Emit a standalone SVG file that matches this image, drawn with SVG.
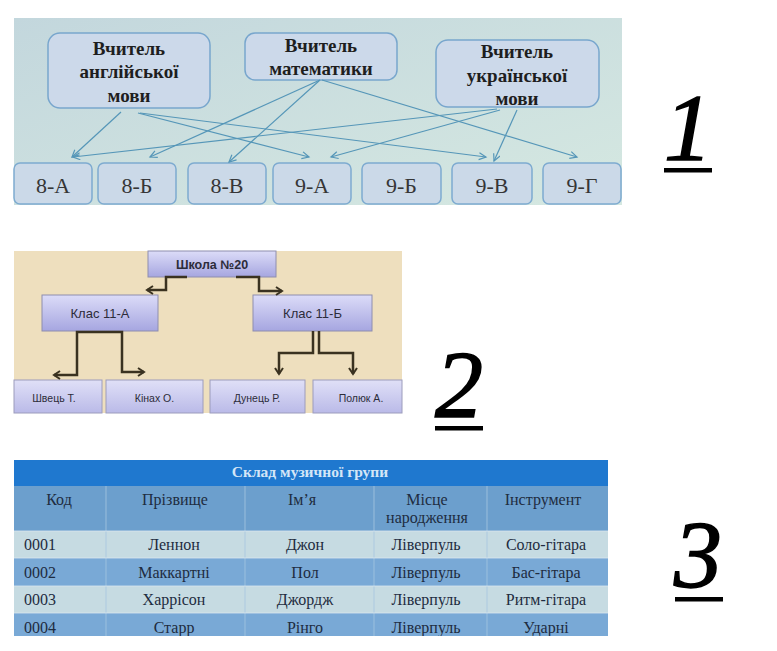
<svg xmlns="http://www.w3.org/2000/svg" width="777" height="651" viewBox="0 0 777 651">
<defs>
  <linearGradient id="bg1" x1="0" y1="0" x2="1" y2="1">
    <stop offset="0" stop-color="#c3d7dd"/>
    <stop offset="1" stop-color="#d5e8e1"/>
  </linearGradient>
  <linearGradient id="lav" x1="0" y1="0" x2="0" y2="1">
    <stop offset="0" stop-color="#dcdcf8"/>
    <stop offset="1" stop-color="#a6a6e0"/>
  </linearGradient>
  <linearGradient id="lav2" x1="0" y1="0" x2="0" y2="1">
    <stop offset="0" stop-color="#e0e0f7"/>
    <stop offset="1" stop-color="#babae8"/>
  </linearGradient>
  <marker id="ah1" markerWidth="10" markerHeight="10" refX="8" refY="4" orient="auto" markerUnits="userSpaceOnUse">
    <path d="M1,0.5 L8,4 L1,7.5" fill="none" stroke="#5596b8" stroke-width="1.2"/>
  </marker>
  <marker id="ah2" markerWidth="10" markerHeight="12" refX="7" refY="5" orient="auto" markerUnits="userSpaceOnUse">
    <path d="M1,1 L7,5 L1,9" fill="none" stroke="#3a3220" stroke-width="2"/>
  </marker>
  <clipPath id="clipT"><rect x="14" y="460" width="594" height="176"/></clipPath>
</defs>
<style>
  .tb { fill:#ccd9ea; stroke:#78a6cd; stroke-width:1.5; }
  .cb { fill:#cbd9e8; stroke:#7eabd0; stroke-width:1.5; }
  .tt { font-family:"Liberation Serif",serif; font-weight:bold; font-size:19px; fill:#1e1e1e; text-anchor:middle; }
  .ct { font-family:"Liberation Serif",serif; font-size:22px; fill:#363636; text-anchor:middle; }
  .c1 { fill:none; stroke:#5596b8; stroke-width:1.2; marker-end:url(#ah1); }
  .b2 { fill:url(#lav); stroke:#8e8eae; stroke-width:1; }
  .n2 { fill:url(#lav2); stroke:#9c9cbc; stroke-width:1; }
  .s2 { font-family:"Liberation Sans",sans-serif; font-size:13px; fill:#2c2c3a; text-anchor:middle; }
  .s2b { font-family:"Liberation Sans",sans-serif; font-size:12.5px; font-weight:bold; fill:#2c2c3a; text-anchor:middle; }
  .n2t { font-family:"Liberation Sans",sans-serif; font-size:10.5px; fill:#2c2c3a; text-anchor:middle; }
  .c2 { fill:none; stroke:#3a3220; stroke-width:2.5; marker-end:url(#ah2); }
  .tx { font-family:"Liberation Serif",serif; font-size:16px; fill:#1e2c40; text-anchor:middle; }
  .num { font-family:"Liberation Serif",serif; font-style:italic; font-size:96px; fill:#000; stroke:#000; stroke-width:1.5; text-anchor:middle; }
</style>

<!-- Panel 1 -->
<rect x="14" y="18" width="608" height="187" fill="url(#bg1)"/>
<g id="t-eng">
  <rect class="tb" x="48" y="33" width="162" height="75" rx="12"/>
  <text class="tt" x="129" y="55">Вчитель</text>
  <text class="tt" x="129" y="78">англійської</text>
  <text class="tt" x="129" y="102">мови</text>
</g>
<g id="t-math">
  <rect class="tb" x="245" y="33" width="152" height="47" rx="10"/>
  <text class="tt" x="321" y="52">Вчитель</text>
  <text class="tt" x="321" y="75">математики</text>
</g>
<g id="t-ukr">
  <rect class="tb" x="436" y="40" width="163" height="67" rx="12"/>
  <text class="tt" x="517" y="58">Вчитель</text>
  <text class="tt" x="517" y="82">української</text>
  <text class="tt" x="517" y="105">мови</text>
</g>
<g id="c-8a"><rect class="cb" x="14" y="163" width="78" height="41" rx="6"/><text class="ct" x="53" y="193">8-А</text></g>
<g id="c-8b"><rect class="cb" x="98" y="163" width="78" height="41" rx="6"/><text class="ct" x="137" y="193">8-Б</text></g>
<g id="c-8v"><rect class="cb" x="188" y="163" width="78" height="41" rx="6"/><text class="ct" x="227" y="193">8-В</text></g>
<g id="c-9a"><rect class="cb" x="273" y="163" width="78" height="41" rx="6"/><text class="ct" x="312" y="193">9-А</text></g>
<g id="c-9b"><rect class="cb" x="362" y="163" width="79" height="41" rx="6"/><text class="ct" x="401.5" y="193">9-Б</text></g>
<g id="c-9v"><rect class="cb" x="452" y="163" width="80" height="41" rx="6"/><text class="ct" x="492" y="193">9-В</text></g>
<g id="c-9g"><rect class="cb" x="543" y="163" width="78" height="41" rx="6"/><text class="ct" x="582" y="193">9-Г</text></g>
<g id="connectors1">
  <path class="c1" d="M121,112 L72,157"/>
  <path class="c1" d="M138,113 L309,157"/>
  <path class="c1" d="M140,113 L486,157"/>
  <path class="c1" d="M320,80 L150,157"/>
  <path class="c1" d="M320,80 L229,162"/>
  <path class="c1" d="M322,80 L577,157"/>
  <path class="c1" d="M497,109 L73,157"/>
  <path class="c1" d="M500,110 L331,157"/>
  <path class="c1" d="M517,110 L494,161"/>
</g>

<!-- Panel 2 -->
<rect x="14" y="251" width="388" height="162" fill="#eedfbe"/>
<g id="school"><rect class="b2" x="148" y="251" width="128" height="26"/><text class="s2b" x="212" y="269">Школа №20</text></g>
<g id="k11a"><rect class="b2" x="42" y="295" width="116" height="36"/><text class="s2" x="100" y="318">Клас 11-А</text></g>
<g id="k11b"><rect class="b2" x="253" y="295" width="119" height="36"/><text class="s2" x="312.5" y="318">Клас 11-Б</text></g>
<g id="shvets"><rect class="n2" x="14" y="380" width="88" height="33"/><text class="n2t" x="54" y="402">Швець Т.</text></g>
<g id="kinakh"><rect class="n2" x="106" y="380" width="97" height="33"/><text class="n2t" x="154.5" y="402">Кінах О.</text></g>
<g id="dunets"><rect class="n2" x="210" y="380" width="95" height="33"/><text class="n2t" x="257" y="402">Дунець Р.</text></g>
<g id="poliuk"><rect class="n2" x="313" y="380" width="89" height="33"/><text class="n2t" x="361" y="402">Полюк А.</text></g>
<g id="connectors2">
  <path class="c2" d="M187,277 H166 V290 H147"/>
  <path class="c2" d="M236,277 H259 V291 H282"/>
  <path class="c2" d="M99,332 H77 V375 H54"/>
  <path class="c2" d="M99,332 H122 V372 H144"/>
  <path class="c2" d="M313,331 V353 H279 V374"/>
  <path class="c2" d="M319,331 V353 H353 V374"/>
</g>

<!-- Panel 3 -->
<g id="table" clip-path="url(#clipT)">
  <rect x="14" y="460" width="594" height="26" fill="#1f78cf"/>
  <rect x="14" y="486" width="594" height="45" fill="#6c9fcd"/>
  <rect x="14" y="531" width="594" height="27" fill="#c6dbe2"/>
  <rect x="14" y="558" width="594" height="28" fill="#79a9d6"/>
  <rect x="14" y="586" width="594" height="27" fill="#c6dbe2"/>
  <rect x="14" y="613" width="594" height="25" fill="#79a9d6"/>
  <g stroke="#a6c6e0" stroke-width="1" opacity="0.8">
    <line x1="106" y1="486" x2="106" y2="636"/>
    <line x1="245" y1="486" x2="245" y2="636"/>
    <line x1="374" y1="486" x2="374" y2="636"/>
    <line x1="487" y1="486" x2="487" y2="636"/>
  </g>
  <g stroke="#dbe8f0" stroke-width="1" opacity="0.8">
    <line x1="14" y1="531" x2="608" y2="531"/>
    <line x1="14" y1="558" x2="608" y2="558"/>
    <line x1="14" y1="586" x2="608" y2="586"/>
    <line x1="14" y1="613" x2="608" y2="613"/>
  </g>
  <text x="310" y="477" font-family="Liberation Serif, serif" font-weight="bold" font-size="15.5" fill="#d4e6f7" text-anchor="middle">Склад музичної групи</text>
  <text class="tx" x="59" y="505">Код</text>
  <text class="tx" x="175" y="505">Прізвище</text>
  <text class="tx" x="302" y="505">Ім’я</text>
  <text class="tx" x="427" y="505">Місце</text>
  <text class="tx" x="427" y="523">народження</text>
  <text class="tx" x="543" y="505">Інструмент</text>

  <text class="tx" x="40" y="550" text-anchor="start">0001</text>
  <text class="tx" x="174" y="550">Леннон</text>
  <text class="tx" x="305" y="550">Джон</text>
  <text class="tx" x="426" y="550">Ліверпуль</text>
  <text class="tx" x="546" y="550">Соло-гітара</text>

  <text class="tx" x="40" y="578" text-anchor="start">0002</text>
  <text class="tx" x="174" y="578">Маккартні</text>
  <text class="tx" x="305" y="578">Пол</text>
  <text class="tx" x="426" y="578">Ліверпуль</text>
  <text class="tx" x="546" y="578">Бас-гітара</text>

  <text class="tx" x="40" y="605" text-anchor="start">0003</text>
  <text class="tx" x="174" y="605">Харрісон</text>
  <text class="tx" x="305" y="605">Джордж</text>
  <text class="tx" x="426" y="605">Ліверпуль</text>
  <text class="tx" x="546" y="605">Ритм-гітара</text>

  <text class="tx" x="40" y="633" text-anchor="start">0004</text>
  <text class="tx" x="174" y="633">Старр</text>
  <text class="tx" x="305" y="633">Рінго</text>
  <text class="tx" x="426" y="633">Ліверпуль</text>
  <text class="tx" x="546" y="633">Ударні</text>
</g>

<!-- Numbers -->
<g id="label1"><text class="num" x="688" y="160">1</text><rect x="664" y="168" width="48" height="4.5" fill="#000"/></g>
<g id="label2"><text class="num" x="459" y="417">2</text><rect x="435" y="426" width="48" height="4.5" fill="#000"/></g>
<g id="label3"><text class="num" x="698" y="587">3</text><rect x="675" y="597" width="48" height="4.5" fill="#000"/></g>
</svg>
